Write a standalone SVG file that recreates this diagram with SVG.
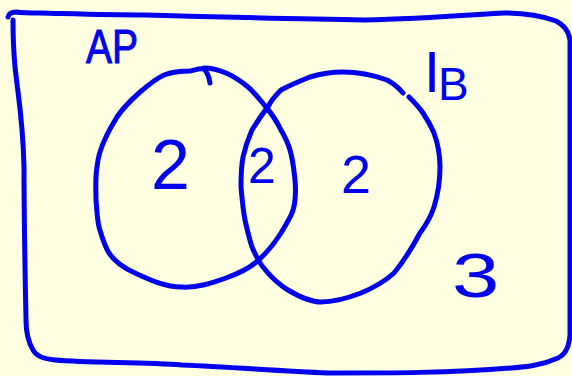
<svg xmlns="http://www.w3.org/2000/svg" width="572" height="376" viewBox="0 0 572 376">
<style>
.ink{fill:none;stroke:#0000F0;stroke-width:5;stroke-linecap:round;stroke-linejoin:round}
.t{fill:#0000F0;font-family:"Liberation Sans",Arial,sans-serif}
</style>
<rect x="0" y="0" width="572" height="376" fill="#FEFEE0"/>
<g id="universe">
<path class="ink" d="M 8,17 C 9,13 12,12 16,12 C 24,13 32,13 40,13 C 80,14 110,15 146,15 C 220,17 290,19 365,20 C 420,19 470,15 504,13 C 525,13 545,17 556,21 C 564,25 569,32 570,40 L 570,335 C 569,348 565,355 558,358 C 540,366 525,367 511,368 C 450,373 390,373 328,373 C 280,371 230,367 182,365 C 140,362 90,363 55,360 C 42,359 36,356 33,350 C 27,340 26,330 26,320 C 25,270 24,220 24,167 C 23,120 18,95 15,67 C 13,45 13,30 13,20"/>
</g>
<g id="set-ap">
<path class="ink" d="M 210,83 C 209,77 207,72 204,69 C 200,68 195,70 190,71 C 180,71 172,72 164,75 C 155,79 147,86 139,93 C 130,101 123,108 117,117 C 113,124 109,130 106,137 C 101,147 98,156 97,167 C 95,178 96,190 96,200 C 97,210 97,218 99,227 C 102,237 104,245 109,253 C 115,262 124,268 135,273 C 150,280 165,287 182,287 C 197,288 212,283 226,278 C 237,274 247,270 255,263 C 265,255 274,244 281,233 C 285,226 289,220 292,213 C 296,203 296,192 295,180 C 294,170 293,160 290,150 C 288,143 285,137 281,130 C 277,122 272,114 266,107 C 260,100 255,93 248,87 C 242,82 235,77 226,73 C 219,70 212,68 204,68"/>
<text class="t" x="86" y="63" font-size="48" textLength="52" lengthAdjust="spacingAndGlyphs" stroke="#0000F0" stroke-width="1">AP</text>
</g>
<g id="set-ib">
<path class="ink" d="M 403,93 C 398,87 393,83 387,80 C 373,75 358,72 343,72 C 331,72 320,74 310,77 C 300,81 290,85 281,90 C 276,95 271,100 268,107 C 262,114 257,122 252,130 C 248,139 245,148 243,157 C 241,167 241,177 241,187 C 242,198 243,210 245,220 C 247,229 249,238 252,247 C 255,254 258,261 263,267 C 270,276 278,284 288,290 C 298,296 310,302 321,302 C 335,302 348,298 361,293 C 373,288 384,282 394,273 C 404,261 413,246 420,233 C 426,225 431,216 434,207 C 438,194 440,180 440,167 C 440,156 438,144 434,133 C 431,126 427,119 423,113 C 419,107 414,102 409,97"/>
<text class="t"><tspan x="424" y="92" font-size="58">I</tspan><tspan x="438" y="100" font-size="46">B</tspan></text>
</g>
<g id="counts">
<text class="t" x="151" y="189" font-size="70">2</text>
<text class="t" x="248" y="183" font-size="50">2</text>
<text class="t" x="341" y="193" font-size="54">2</text>
<text class="t" transform="translate(452,297) scale(1.35,1)" x="0" y="0" font-size="63">3</text>
</g>
</svg>
